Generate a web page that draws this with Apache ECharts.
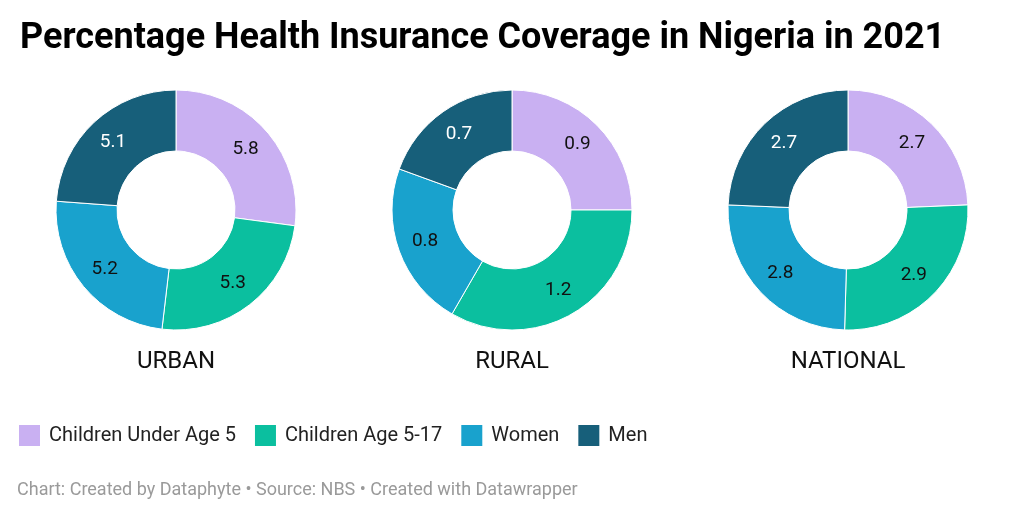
<!DOCTYPE html>
<html><head><meta charset="utf-8">
<script src="https://cdn.jsdelivr.net/npm/echarts@6/dist/echarts.min.js"></script>
<style>html,body{margin:0;padding:0;background:#fff}#c{width:1024px;height:517px}</style>
</head><body><div id="c"></div>
<script>
const categories = ["Children Under Age 5", "Children Age 5-17", "Women", "Men"];
const regions = ["URBAN", "RURAL", "NATIONAL"];
const urban = [5.8, 5.3, 5.2, 5.1];
const rural = [0.9, 1.2, 0.8, 0.7];
const national = [2.7, 2.9, 2.8, 2.7];
const colors = ["#c9b0f2", "#0bbf9f", "#19a2cd", "#175f7a"];
const labelColors = ["#111", "#111", "#111", "#fff"];

const seriesData = [urban, rural, national];
const centersX = [176, 512, 848];
const chart = echarts.init(document.getElementById('c'), null, {renderer: 'canvas'});
const font = 'Roboto, "Noto Sans", sans-serif';
const option = {
  animation: false,
  color: colors,
  title: [
    {text: "Percentage Health Insurance Coverage in Nigeria in 2021", left: 15, top: 16,
     textStyle: {fontFamily: font, fontSize: 36, fontWeight: 'bold', color: '#000'}},
    {text: "Chart: Created by Dataphyte • Source: NBS • Created with Datawrapper", left: 12, top: 476,
     textStyle: {fontFamily: font, fontSize: 18, fontWeight: 'normal', color: '#9a9a9a'}}
  ].concat(regions.map((r, i) => ({
    text: r, left: centersX[i], top: 350, textAlign: 'center', padding: 0,
    textStyle: {fontFamily: font, fontSize: 24, fontWeight: 'normal', color: '#111'}
  }))),
  legend: {
    left: 12, top: 418, itemWidth: 23, itemHeight: 23, itemGap: 17, icon: 'rect',
    data: categories,
    textStyle: {fontFamily: font, fontSize: 20, color: '#222', padding: [0, 0, 0, 3]}
  },
  series: seriesData.map((vals, i) => ({
    type: 'pie', name: regions[i],
    center: [centersX[i], 210], radius: [59, 120], startAngle: 90, clockwise: true,
    itemStyle: {borderColor: '#fff', borderWidth: 1},
    label: {position: 'inside', fontFamily: font, fontSize: 19, formatter: '{c}'},
    labelLine: {show: false},
    emphasis: {disabled: true},
    data: categories.map((c, j) => ({name: c, value: vals[j], label: {color: labelColors[j]}}))
  }))
};
chart.setOption(option);
</script></body></html>
